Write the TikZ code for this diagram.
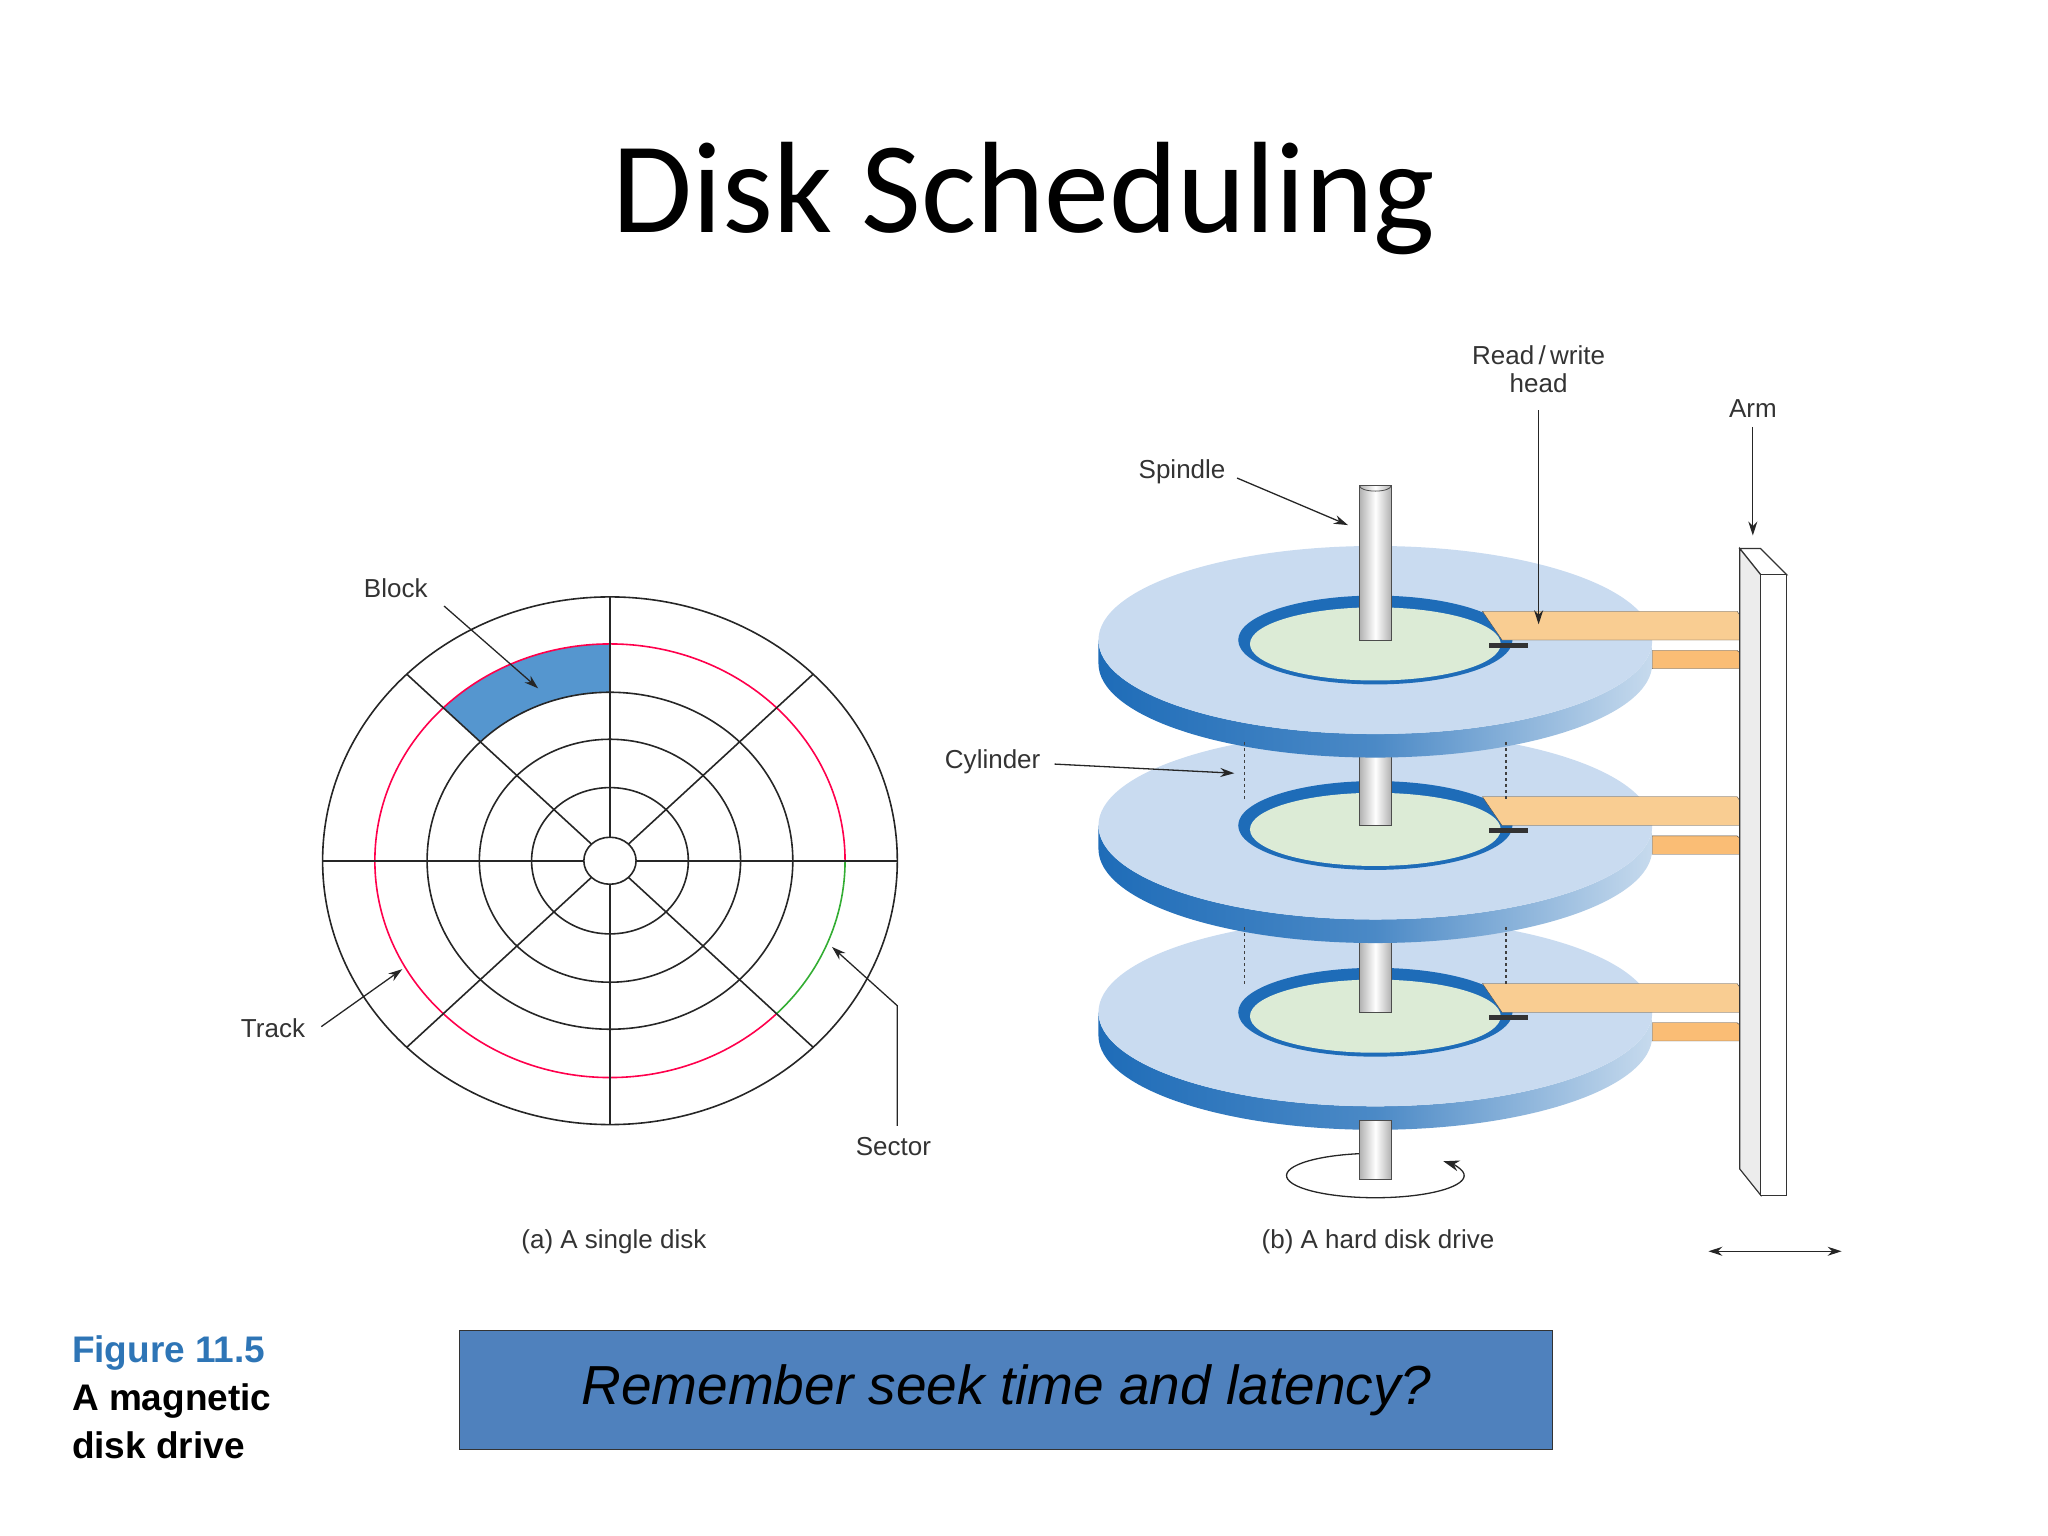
\documentclass[tikz,border=0pt]{standalone}
\usepackage{fontspec}
\setmainfont{Liberation Sans}
\newfontfamily\titlefont{Carlito}
\usetikzlibrary{arrows.meta}
\definecolor{face}{HTML}{C9DBF0}
\definecolor{bandD}{HTML}{1E6CB8}
\definecolor{hubG}{HTML}{DCEBD6}
\definecolor{armO}{HTML}{F9CD92}
\definecolor{blockB}{HTML}{5596CF}
\definecolor{boxB}{HTML}{4F81BD}
\definecolor{figB}{HTML}{2E75B6}
\tikzset{lbl/.style={font=\fontsize{26}{30}\selectfont, text=black!80, inner sep=1pt},
  ptr/.style={-{Stealth[length=14pt,width=9pt]}, line width=1.3pt, black!85},
  trk/.style={line width=1.6pt, black!85}}
\begin{document}
\begin{tikzpicture}[x=1.306pt,y=-1.306pt]
\useasboundingbox (0,0) rectangle (1568,1176);
\node[font=\titlefont\fontsize{130}{130}\selectfont] (title) at (784,152) {Disk Scheduling};
% ---- single disk
\begin{scope}[shift={(467,659)}]
 \fill[blockB] (270:180 and 166) arc[start angle=270,end angle=225,x radius=180,y radius=166]
   -- (225:140 and 129) arc[start angle=225,end angle=270,x radius=140,y radius=129] -- cycle;
 \draw[trk] (0,0) ellipse[x radius=220,y radius=202];
 \foreach \r/\s in {140/129,100/93,60/56,20/18} \draw[trk] (0,0) ellipse[x radius=\r,y radius=\s];
 \draw[line width=1.6pt, red!70!magenta] (45:180 and 166) arc[start angle=45,end angle=360,x radius=180,y radius=166];
 \draw[line width=1.6pt, green!60!black!80] (0:180 and 166) arc[start angle=0,end angle=45,x radius=180,y radius=166];
 \foreach \a in {0,45,...,315} \draw[trk] (\a:20 and 18) -- (\a:220 and 202);
\end{scope}
\node[lbl] (block) at (303,450) {Block};
\node[lbl] (track) at (209,787) {Track};
\node[lbl] (sector) at (684,878) {Sector};
\coordinate (blockT) at (412,527);
\coordinate (trackT) at (308,742);
\coordinate (sectorT) at (637,725);
\draw[ptr] (340,464) -- (blockT);
\draw[ptr] (246,786) -- (trackT);
\draw[ptr] (687,862) -- (687,770) -- (sectorT);
\node[lbl] (capa) at (470,951) {(a) A single disk};
% ---- drive
\foreach \cy/\top in {775/710,632/570,490/372}{
 \shade[left color=bandD, right color=bandD!25, middle color=bandD!80]
   (841,\cy) -- (841,\cy+18) arc[start angle=180,end angle=0,x radius=212,y radius=72]
   -- (1265,\cy) arc[start angle=0,end angle=180,x radius=212,y radius=72] -- cycle;
 \fill[face] (1053,\cy) ellipse[x radius=212,y radius=72];
 \fill[bandD] (1053,\cy) ellipse[x radius=105,y radius=34];
 \fill[hubG] (1053,\cy+3) ellipse[x radius=96,y radius=28];
 \shade[left color=gray!60, right color=gray!60, middle color=white, draw=black!70, line width=0.8pt]
   (1041,\top) rectangle (1065,\cy);
 \fill[black!80] (1140,\cy+2) rectangle (1170,\cy+6);
 \fill[armO, draw=black!70] (1135,\cy-22) -- (1330,\cy-22) -- (1345,\cy) -- (1150,\cy) -- cycle;
 \fill[armO!80!orange, draw=black!70] (1265,\cy+8) -- (1330,\cy+8) -- (1345,\cy+22) -- (1265,\cy+22) -- cycle;
}
\draw[black!70,line width=0.8pt] (1041,372) arc[start angle=180,end angle=0,x radius=12,y radius=4];
% rotation
\draw[-{Stealth[length=16pt,width=11pt]}, line width=1.3pt,black!85] (1053,900) ++(-100:68 and 17) arc[start angle=-100,end angle=-400,x radius=68,y radius=17];
\shade[left color=gray!60, right color=gray!60, middle color=white, draw=black!70, line width=0.8pt]
   (1041,858) rectangle (1065,903);
\foreach \yy in {568,710} {\draw[dashed, line width=1.2pt, black!75] (953,\yy) -- (953,\yy+45);
  \draw[dashed, line width=1.2pt, black!75] (1153,\yy) -- (1153,\yy+45);}
% arm bar
\fill[white, draw=black!80, line width=1.2pt] (1332,420) -- (1348,420) -- (1368,440) -- (1348,440) -- cycle;
\fill[gray!15, draw=black!80, line width=1.2pt] (1332,420) -- (1348,440) -- (1348,915) -- (1332,895) -- cycle;
\fill[white, draw=black!80, line width=1.2pt] (1348,440) rectangle (1368,915);
\node[lbl, align=center, font=\fontsize{26}{28}\selectfont] (rw) at (1178,283) {Read\,/\,write\\head};
\node[lbl] (arm) at (1342,313) {Arm};
\node[lbl] (spindle) at (905,361) {Spindle};
\node[lbl] (cyl) at (760,583) {Cylinder};
\coordinate (rwT) at (1178,478);
\coordinate (armT) at (1342,410);
\coordinate (spT) at (1032,402);
\coordinate (cyT) at (945,592);
\draw[ptr] (rw.south) ++(0,12) -- (rwT);
\draw[ptr] (arm.south) ++(0,6) -- (armT);
\draw[ptr] (spindle.east) ++(8,5) -- (spT);
\draw[ptr] (cyl.east) ++(10,2) -- (cyT);
\node[lbl] (capb) at (1055,951) {(b) A hard disk drive};
\coordinate (sL) at (1308,958); \coordinate (sR) at (1410,958);
\draw[{Stealth[length=14pt,width=9pt]}-{Stealth[length=14pt,width=9pt]}, line width=1.3pt, black!85] (sL) -- (sR);
% bottom
\node[anchor=west, align=left, font=\bfseries\fontsize{37}{48}\selectfont, inner sep=0] (fig) at (55,1070)
  {\textcolor{figB}{Figure 11.5}\\A magnetic\\disk drive};
\node[fill=boxB, draw=black!80, line width=1pt, minimum width=837*1.306pt, minimum height=91*1.306pt,
  font=\itshape\fontsize{55}{60}\selectfont] (box) at (770.5,1064.5) {Remember seek time and latency?};
\end{tikzpicture}
\end{document}
